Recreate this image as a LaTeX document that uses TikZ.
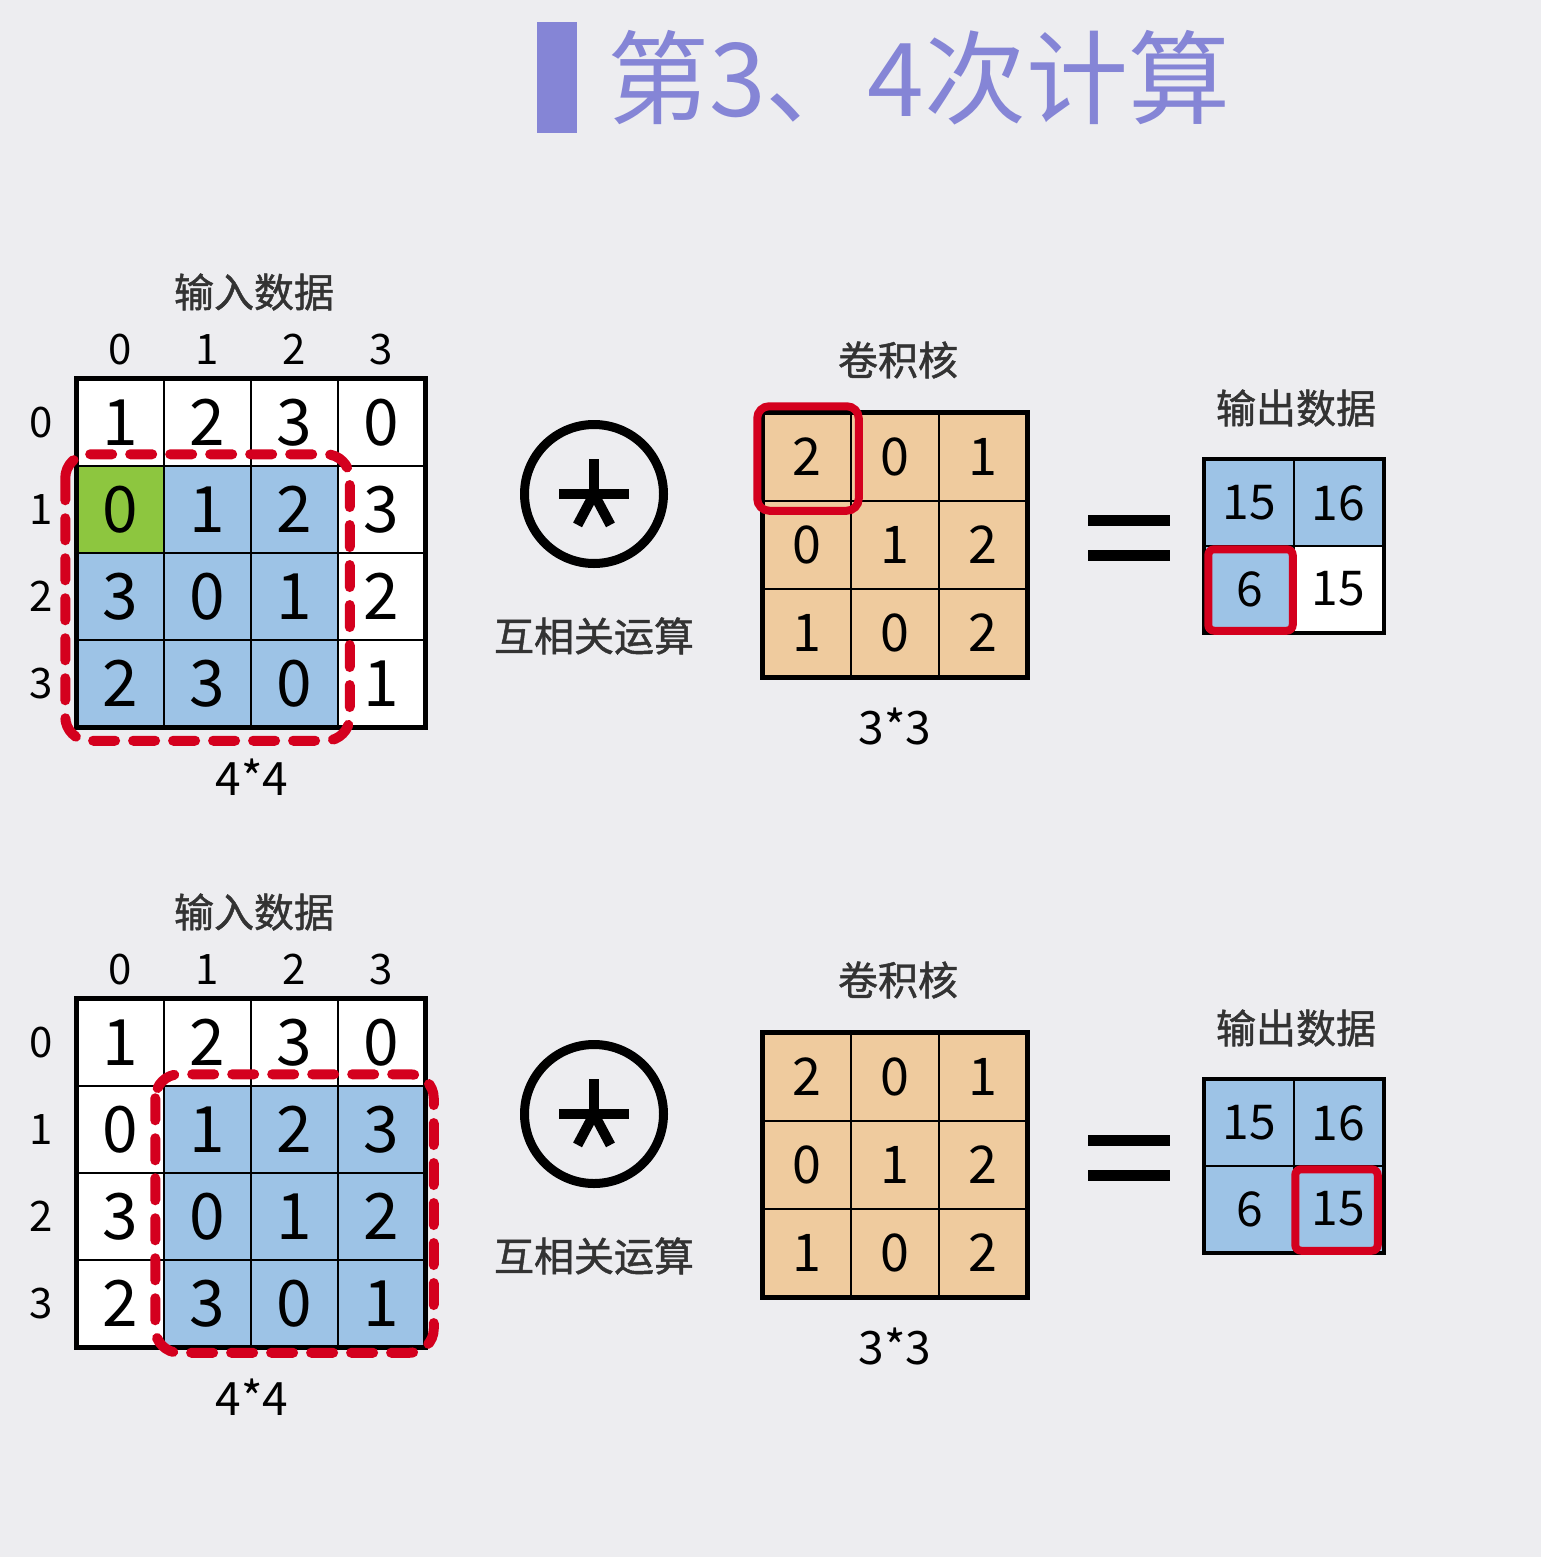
\documentclass[tikz,border=0pt]{standalone}
\usepackage{fontspec}
\setmainfont{Noto Sans CJK SC}
\newfontfamily\capfont[FakeBold=1.2]{Noto Sans CJK SC}
\usetikzlibrary{positioning,backgrounds}
\definecolor{pagebg}{HTML}{EDEDF0}
\definecolor{titlec}{HTML}{8585D6}
\definecolor{capgray}{HTML}{333333}
\definecolor{cellblue}{HTML}{9DC3E6}
\definecolor{cellgreen}{HTML}{8DC63F}
\definecolor{celltan}{HTML}{EFCB9E}
\definecolor{winred}{HTML}{D4001E}

\begin{document}
\begin{tikzpicture}[x=1pt,y=-1pt,
every node/.append style={text=black},
incell/.style={draw=black,line width=1.5pt,minimum size=87pt,inner sep=0pt,font={\fontsize{64}{64}\selectfont}},
kcell/.style={incell,minimum size=88pt,font={\fontsize{52}{52}\selectfont}},
ocell/.style={incell,minimum width=89pt,minimum height=86pt,font={\fontsize{48}{48}\selectfont}},
frame/.style={draw=black,line width=5pt},
caption/.style={font={\capfont\fontsize{40}{40}\selectfont},text=capgray},
idx/.style={font={\fontsize{42}{42}\selectfont}},
size/.style={font={\fontsize{46}{46}\selectfont}},
window/.style={draw=winred,line width=10pt,dash pattern=on 22pt off 18pt,line cap=round,rounded corners=24pt},
pick/.style={draw=winred,line width=8pt,rounded corners=12pt},
]
\useasboundingbox (0,0) rectangle (1541,1557);

% title
\node[fill=titlec,minimum width=40pt,minimum height=111pt,inner sep=0pt] (bar) at (557,77.5) {};
\node[anchor=west,text=titlec,font={\fontsize{102}{102}\selectfont},inner sep=0pt] (title) at (607,78) {第3、4次计算};

\foreach \p/\oy in {a/0,b/620} {
  % input data 4*4
  \node[caption] (ic\p) at (254,292+\oy) {输入数据};
  \foreach \row [count=\r from 0] in {{1,2,3,0},{0,1,2,3},{3,0,1,2},{2,3,0,1}}
    \foreach \v [count=\c from 0] in \row
      \node[incell] (i\p-\r-\c) at (120.5+87*\c,422.5+87*\r+\oy) {\v};
  \foreach \c in {0,...,3} {
    \node[idx,above=10pt of i\p-0-\c] (col\p\c) {\c};
    \node[idx] (row\p\c) at (41,422.5+87*\c+\oy) {\c};
  }
  \draw[frame] (i\p-0-0.north west) rectangle (i\p-3-3.south east);
  \node[size,below=28pt of i\p-3-1.south east] (is\p) {4*4};

  % operator
  \node[circle,draw=black,line width=9pt,minimum size=139pt,inner sep=0pt] (op\p) at (594,494+\oy) {};
  \foreach \a in {-90,0,180,62,118}
    \draw[line width=10pt] (op\p.center) -- ++(\a:35);
  \node[caption] (opl\p) at (594,636+\oy) {互相关运算};

  % kernel 3*3
  \node[caption] (kc\p) at (898,360+\oy) {卷积核};
  \foreach \row [count=\r from 0] in {{2,0,1},{0,1,2},{1,0,2}}
    \foreach \v [count=\c from 0] in \row
      \node[kcell] (k\p-\r-\c) at (807+88*\c,457+88*\r+\oy) {\v};
  \draw[frame] (k\p-0-0.north west) rectangle (k\p-2-2.south east);
  \node[size,below=27pt of k\p-2-1] (ks\p) {3*3};

  % equals
  \coordinate (eq\p) at (1129,538+\oy);
  \draw[line width=11pt] ([shift={(-41,-18)}]eq\p) -- ([shift={(41,-18)}]eq\p);
  \draw[line width=11pt] ([shift={(-41,17)}]eq\p) -- ([shift={(41,17)}]eq\p);

  % output 2*2
  \node[caption] (oc\p) at (1296,408+\oy) {输出数据};
  \foreach \row [count=\r from 0] in {{15,16},{6,15}}
    \foreach \v [count=\c from 0] in \row
      \node[ocell] (o\p-\r-\c) at (1249.5+89*\c,503+86*\r+\oy) {\v};
  \draw[frame,line width=4pt] (o\p-0-0.north west) rectangle (o\p-1-1.south east);
}

% highlights
\draw[window] ([shift={(-11,-11)}]ia-1-0.north west) rectangle ([shift={(11,13)}]ia-3-2.south east);
\draw[window] ([shift={(-8,-11)}]ib-1-1.north west) rectangle ([shift={(8,5)}]ib-3-3.south east);
\draw[pick] ([shift={(-5,-6)}]ka-0-0.north west) rectangle ([shift={(7,9)}]ka-0-0.south east);
\draw[pick,rounded corners=6pt] ([shift={(4,4)}]oa-1-0.north west) rectangle ([shift={(-2,-2)}]oa-1-0.south east);
\draw[pick,rounded corners=6pt] ([shift={(2,4)}]ob-1-1.north west) rectangle ([shift={(-6,-2)}]ob-1-1.south east);

\begin{scope}[on background layer]
  \fill[pagebg] (0,0) rectangle (1541,1557);
  \foreach \p in {a,b} {
    \fill[white] (i\p-0-0.north west) rectangle (i\p-3-3.south east);
    \fill[celltan] (k\p-0-0.north west) rectangle (k\p-2-2.south east);
    \fill[cellblue] (o\p-0-0.north west) rectangle (o\p-1-1.south east);
  }
  \fill[cellblue] (ia-1-0.north west) rectangle (ia-3-2.south east);
  \fill[cellgreen] (ia-1-0.north west) rectangle (ia-1-0.south east);
  \fill[white] (oa-1-1.north west) rectangle (oa-1-1.south east);
  \fill[cellblue] (ib-1-1.north west) rectangle (ib-3-3.south east);
\end{scope}
\end{tikzpicture}
\end{document}
